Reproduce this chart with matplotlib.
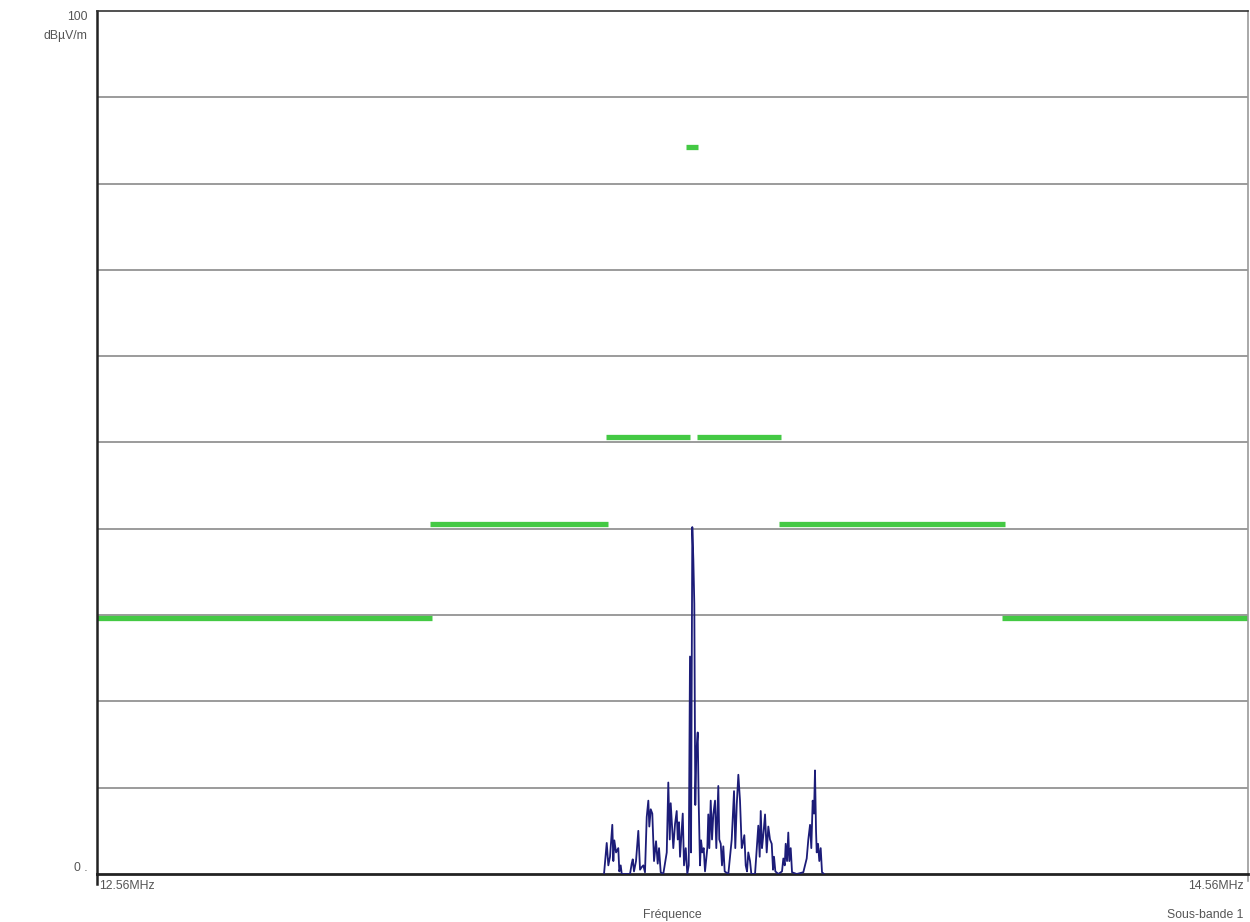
import numpy as np
import matplotlib.pyplot as plt

plt.rcParams['font.family'] = ['Liberation Sans', 'DejaVu Sans']

# sweep span (MHz) and level axis (dBuV/m)
f_start, f_stop = 12.56, 14.56
y_min, y_max = 0, 100

# limit mask: (start MHz, stop MHz, level dBuV/m)
limit_segments = [
    (12.560, 13.142, 29.7),
    (13.139, 13.448, 40.5),
    (13.445, 13.590, 50.6),
    (13.603, 13.749, 50.6),
    (13.745, 14.138, 40.5),
    (14.133, 14.560, 29.7),
    (13.584, 13.605, 84.2),
]

# measured spectrum around the carrier
freqs = [
    13.4410, 13.4457, 13.4485, 13.4514, 13.4554, 13.4572, 13.4589, 13.4619,
    13.4658, 13.4676, 13.4700, 13.4718, 13.4862, 13.4891, 13.4909, 13.4931,
    13.4966, 13.5006, 13.5036, 13.5065, 13.5093, 13.5122, 13.5152, 13.5180,
    13.5197, 13.5222, 13.5249, 13.5279, 13.5314, 13.5343, 13.5366, 13.5395,
    13.5440, 13.5500, 13.5527, 13.5552, 13.5569, 13.5592, 13.5614, 13.5644,
    13.5673, 13.5691, 13.5713, 13.5731, 13.5778, 13.5800, 13.5830, 13.5857,
    13.5882, 13.5904, 13.5922, 13.5944, 13.5962, 13.5979, 13.5996, 13.6014,
    13.6038, 13.6056, 13.6078, 13.6096, 13.6118, 13.6142, 13.6165, 13.6205,
    13.6222, 13.6240, 13.6264, 13.6287, 13.6309, 13.6339, 13.6361, 13.6396,
    13.6413, 13.6438, 13.6460, 13.6483, 13.6507, 13.6570, 13.6629, 13.6669,
    13.6691, 13.6716, 13.6744, 13.6773, 13.6803, 13.6820, 13.6848, 13.6872,
    13.6895, 13.6917, 13.6947, 13.6970, 13.7034, 13.7091, 13.7115, 13.7133,
    13.7155, 13.7178, 13.7208, 13.7237, 13.7265, 13.7294, 13.7324, 13.7347,
    13.7364, 13.7387, 13.7439, 13.7503, 13.7526, 13.7550, 13.7567, 13.7590,
    13.7612, 13.7630, 13.7654, 13.7677, 13.7758, 13.7873, 13.7932, 13.7960,
    13.7990, 13.8012, 13.8036, 13.8059, 13.8076, 13.8094, 13.8106, 13.8129,
    13.8151, 13.8175, 13.8198, 13.8233,
]
levels = [
    0.0, 3.6, 1.0, 2.0, 5.7, 1.5, 3.9, 2.5,
    3.0, 0.3, 1.0, 0.0, 0.0, 1.2, 1.7, 0.3,
    1.5, 5.0, 0.5, 0.8, 1.0, 0.2, 6.6, 8.5,
    5.5, 7.5, 7.0, 1.5, 3.8, 1.2, 3.0, 0.2,
    0.0, 2.5, 10.6, 4.0, 8.2, 5.5, 3.0, 5.8,
    7.3, 4.0, 6.0, 2.0, 7.0, 1.0, 3.0, 0.0,
    1.0, 25.2, 2.5, 40.2, 36.5, 31.3, 8.0, 14.0,
    16.4, 8.0, 1.0, 3.9, 2.5, 3.0, 0.3, 3.0,
    6.9, 3.0, 8.5, 4.0, 6.9, 8.5, 3.0, 10.2,
    4.0, 3.5, 1.0, 3.2, 0.3, 0.0, 4.0, 9.6,
    3.0, 8.0, 11.5, 8.5, 3.0, 3.5, 4.5, 1.0,
    0.3, 2.5, 1.5, 0.0, 0.0, 5.6, 2.0, 7.3,
    3.0, 4.5, 6.9, 2.5, 5.5, 4.0, 3.5, 0.5,
    2.0, 0.3, 0.0, 0.3, 1.8, 1.0, 3.5, 1.5,
    4.8, 1.5, 3.0, 0.2, 0.0, 0.2, 1.8, 4.0,
    5.7, 3.0, 8.5, 7.0, 12.0, 5.0, 2.5, 3.5,
    1.5, 3.0, 0.2, 0.0,
]

grid_levels = [10, 20, 30, 40, 50, 60, 70, 80, 90]


def main():
    fig = plt.figure(figsize=(12.5, 9.22), dpi=100)
    ax = fig.add_axes([97 / 1250, 48 / 922, 1151 / 1250, 863 / 922])
    ax.set_xlim(f_start, f_stop)
    ax.set_ylim(y_min, y_max)

    for g in grid_levels:
        ax.axhline(g, color="#8a8a8a", lw=1.2, zorder=1)

    for f0, f1, lvl in limit_segments:
        ax.plot([f0, f1], [lvl, lvl], color="#44c944", lw=3.8,
                solid_capstyle="butt", zorder=2)

    ax.plot(freqs, levels, color="#1c1c78", lw=1.3, zorder=3)

    ax.spines["left"].set_color("#222222")
    ax.spines["left"].set_linewidth(1.8)
    ax.spines["bottom"].set_color("#222222")
    ax.spines["bottom"].set_linewidth(2.0)
    ax.spines["top"].set_color("#333333")
    ax.spines["top"].set_linewidth(1.2)
    ax.spines["right"].set_color("#9a9a9a")
    ax.spines["right"].set_linewidth(1.2)

    ax.set_xticks([])
    ax.set_yticks([])

    txt = dict(color="#555555", fontsize=8.8)
    ax.text(-0.008, 1.0, "100", ha="right", va="top", transform=ax.transAxes, **txt)
    ax.text(-0.008, 0.978, "dBµV/m", ha="right", va="top", transform=ax.transAxes, **txt)
    ax.text(-0.008, 0.0, "0 .", ha="right", va="bottom", transform=ax.transAxes, **txt)
    ax.text(0.002, -0.007, "12.56MHz", ha="left", va="top", transform=ax.transAxes, **txt)
    ax.text(0.996, -0.007, "14.56MHz", ha="right", va="top", transform=ax.transAxes, **txt)
    ax.text(0.996, -0.04, "Sous-bande 1", ha="right", va="top", transform=ax.transAxes, **txt)
    ax.text(0.5, -0.04, "Fréquence", ha="center", va="top", transform=ax.transAxes, **txt)

    # small tick marks at the corners
    ax.plot([0, 0], [0, -0.012], color="#222222", lw=1.8, transform=ax.transAxes, clip_on=False)
    ax.plot([1, 1], [0, -0.008], color="#9a9a9a", lw=1.2, transform=ax.transAxes, clip_on=False)

    fig.savefig("out.png", dpi=100, facecolor="white")
    plt.close(fig)


if __name__ == "__main__":
    main()
